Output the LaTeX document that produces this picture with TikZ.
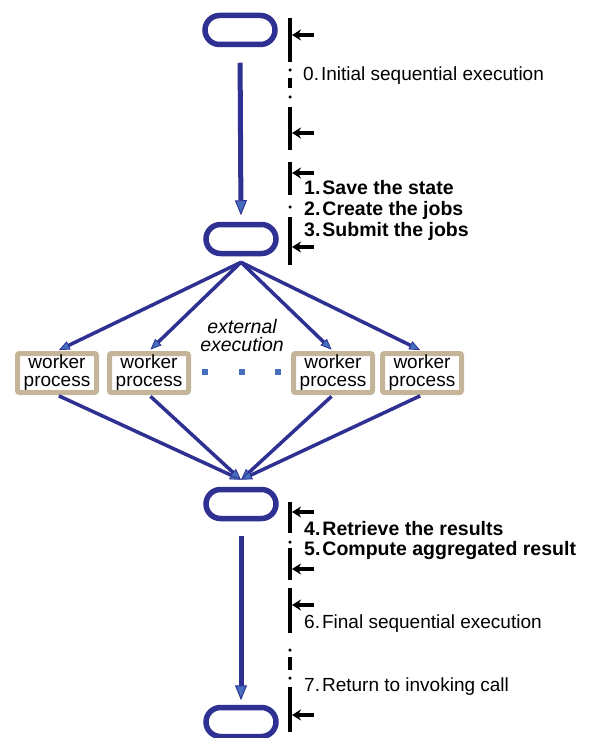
\documentclass[tikz,border=0pt]{standalone}
\usepackage{fontspec}
\setmainfont{Liberation Sans}
\usepackage{tikz}
\definecolor{flowblue}{RGB}{46,49,146}
\definecolor{tipblue}{RGB}{70,110,190}
\definecolor{workertan}{RGB}{196,180,152}
\usetikzlibrary{arrows.meta}

\begin{document}
\begin{tikzpicture}[x=1pt,y=-1pt,
	state/.style={draw=flowblue, line width=5.5pt, rounded corners=14.5pt, minimum width=70pt, minimum height=29pt, inner sep=0pt},
	worker/.style={draw=workertan, line width=5pt, rounded corners=2pt, minimum width=79pt, minimum height=39pt, inner sep=0pt, align=center, font=\fontsize{19}{18}\selectfont},
	flow/.style={draw=flowblue, line width=5pt, -{Triangle[length=15pt,width=12pt,fill=tipblue,line width=1pt]}},
	fan/.style={draw=flowblue, line width=3.5pt, -{Triangle[length=11pt,width=9pt,fill=tipblue,line width=0.8pt]}},
	tline/.style={line width=3.5pt},
	stepmark/.style={line width=3.2pt, -{Stealth[length=9pt,width=11pt]}},
	tdot/.style={fill, circle, inner sep=0pt, minimum size=3.5pt},
	steptext/.style={anchor=west, inner sep=0pt, align=left, font=\fontsize{19}{21}\selectfont},
	gapdot/.style={fill=tipblue, inner sep=0pt, minimum size=6.5pt}]
			\useasboundingbox (0,0) rectangle (589,738);
			
			% states
			\node[state] (s0) at (240,30) {};
			\node[state] (s1) at (241,239) {};
			\node[state] (s2) at (241,504) {};
			\node[state] (s3) at (241,722) {};
			
			% workers
			\node[worker] (w1) at (57,373) {worker\\process};
			\node[worker] (w2) at (149,373) {worker\\process};
			\node[worker] (w3) at (333,373) {worker\\process};
			\node[worker] (w4) at (422,373) {worker\\process};
			\node[gapdot] (d1) at (205,372) {};
			\node[gapdot] (d2) at (242,372) {};
			\node[gapdot] (d3) at (278,372) {};
			\node[align=center, inner sep=0pt, font=\fontsize{19.5}{18}\selectfont\itshape] (ext) at (242,336) {external\\execution};
			
			\draw[flow, shorten <=15.5pt, shorten >=6.5pt] (s0.south) -- (s1.north);
			\draw[flow, shorten <=14.5pt, shorten >=4.5pt] (s2.south) -- (s3.north);
			
			\coordinate (fork) at ([yshift=-6pt]s1.south);
			\coordinate (join) at ([yshift=7pt]s2.north);
			\draw[fan, shorten >=2pt] (fork) -- (w1.north);
			\draw[fan, shorten >=2pt] (fork) -- (w2.north);
			\draw[fan, shorten >=2pt] (fork) -- (w3.north);
			\draw[fan, shorten >=2pt] (fork) -- (w4.north);
			\draw[fan, shorten <=2pt] (w1.south) -- (join);
			\draw[fan, shorten <=2pt] (w2.south) -- (join);
			\draw[fan, shorten <=2pt] (w3.south) -- (join);
			\draw[fan, shorten <=2pt] (w4.south) -- (join);
			
			% time line
			\draw[tline] (290,18) -- (290,62);
			\draw[tline] (290,107) -- (290,150);
			\draw[tline] (290,162) -- (290,195);
			\draw[tline] (290,217) -- (290,265);
			\draw[tline] (290,502) -- (290,533);
			\draw[tline] (290,548) -- (290,580);
			\draw[tline] (290,588) -- (290,633);
			\draw[tline] (290,687) -- (290,732);
			\draw[tline] (290,78) -- (290,88);
			\draw[tline] (290,657) -- (290,670);
			\node[tdot] at (290,70) {};
			\node[tdot] at (290,97) {};
			\node[tdot] at (290,207) {};
			\node[tdot] at (290,542) {};
			\node[tdot] at (290,650) {};
			\node[tdot] at (290,678) {};
			\draw[stepmark] (314,35) -- (292,35);
			\draw[stepmark] (314,133) -- (292,133);
			\draw[stepmark] (314,173) -- (292,173);
			\draw[stepmark] (314,247) -- (292,247);
			\draw[stepmark] (314,512) -- (292,512);
			\draw[stepmark] (314,569) -- (292,569);
			\draw[stepmark] (314,605) -- (292,605);
			\draw[stepmark] (314,715) -- (292,715);
			
			% steps
			\node[steptext] (l0) at (303,76) {0.\hspace{2pt}Initial sequential execution};
			\node[steptext, font=\fontsize{19.5}{21}\selectfont\bfseries] (l1) at (304,210) {1.\hspace{2pt}Save the state\\2.\hspace{2pt}Create the jobs\\3.\hspace{2pt}Submit the jobs};
			\node[steptext, font=\fontsize{19.5}{20}\selectfont\bfseries] (l4) at (304,540) {4.\hspace{2pt}Retrieve the results\\5.\hspace{2pt}Compute aggregated result};
			\node[steptext] (l6) at (304,624) {6.\hspace{2pt}Final sequential execution};
			\node[steptext] (l7) at (304,687) {7.\hspace{2pt}Return to invoking call};
			
\end{tikzpicture}
\end{document}
